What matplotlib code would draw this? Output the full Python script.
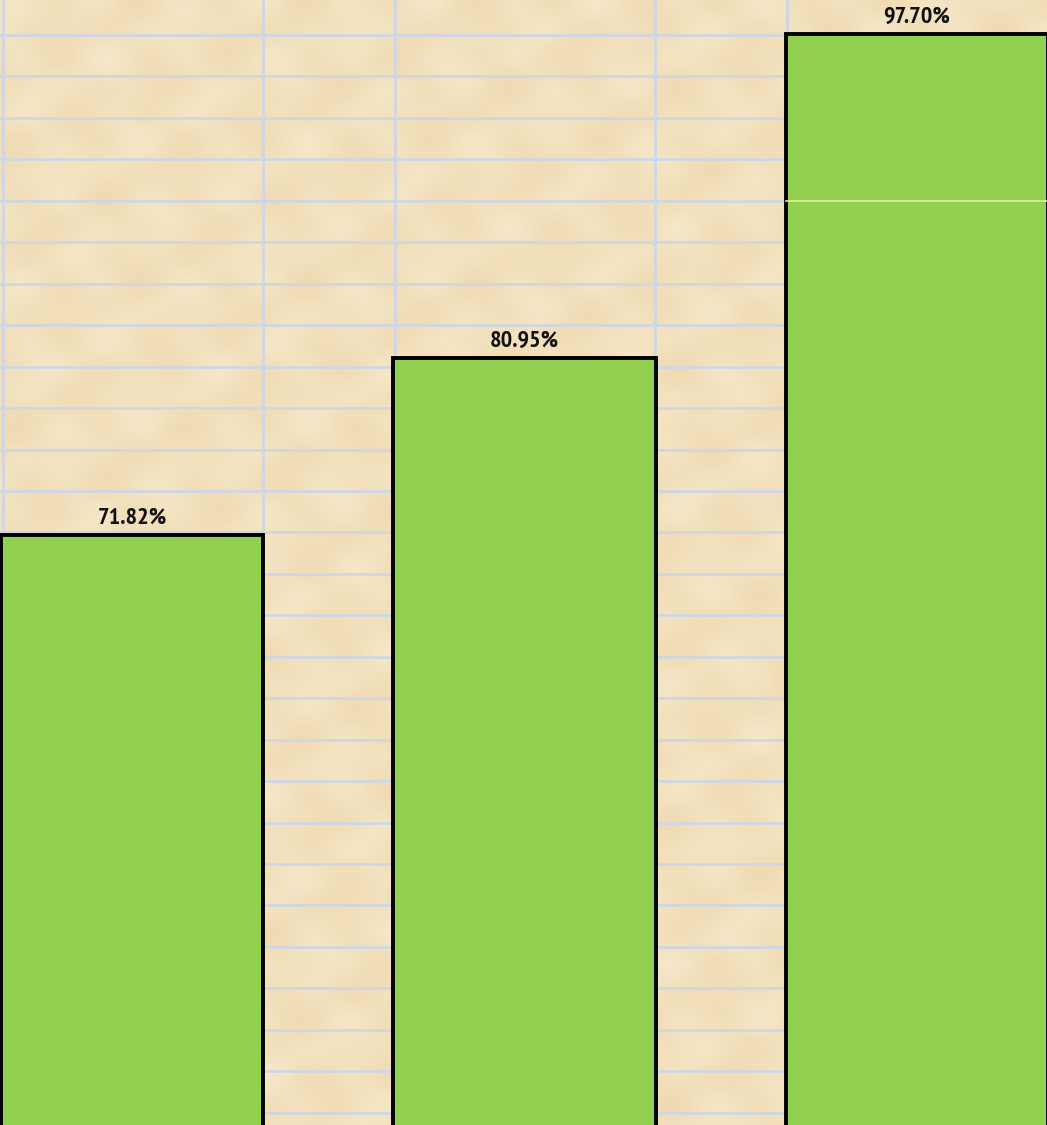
import matplotlib
matplotlib.use("Agg")
import matplotlib.pyplot as plt
import numpy as np
from matplotlib.colors import LinearSegmentedColormap

# Data
categories = ["A", "B", "C"]
values = [71.82, 80.95, 97.70]
labels = ["71.82%", "80.95%", "97.70%"]

W, H, DPI = 1047, 1125, 100
fig = plt.figure(figsize=(W / DPI, H / DPI), dpi=DPI)
fig.patch.set_facecolor("#F2E1BF")

# Sheet layer: parchment fill with cell borders, in pixel coordinates
sheet = fig.add_axes([0, 0, 1, 1], zorder=0)
sheet.set_xlim(0, W)
sheet.set_ylim(H, 0)
sheet.axis("off")

# soft parchment tone variation
yy, xx = np.mgrid[0:H:3, 0:W:3]
tone = (0.5 + 0.14 * np.sin(xx / 13.0) * np.cos(yy / 9.0)
        + 0.14 * np.sin((xx + 2 * yy) / 29.0)
        + 0.12 * np.cos((3 * xx - yy) / 41.0))
parch = LinearSegmentedColormap.from_list("parch", ["#EED8AF", "#F6E9CB"])
sheet.imshow(tone, cmap=parch, extent=[0, W, H, 0], aspect="auto",
             interpolation="bilinear", zorder=0, vmin=0, vmax=1)

grid_color = "#CFD6E4"
row_top, row_h = 35.0, 41.45
for k in range(-1, 28):
    sheet.axhline(row_top + k * row_h, color=grid_color, lw=2.0, zorder=1)
for xv in [3, 263, 395, 655, 787]:
    sheet.axvline(xv, color=grid_color, lw=2.0, zorder=1)

# Chart layer (transparent) on top of the sheet
ax = fig.add_axes([0, 0, 1, 1], zorder=2)
ax.patch.set_alpha(0)
x = np.arange(len(categories))
bars = ax.bar(x, values, width=0.668, color="#92D050",
              edgecolor="black", linewidth=2.8, bottom=0)
ax.set_xlim(-0.337, 2.332)
ax.set_ylim(41.3, 99.48)
ax.axis("off")

for xi, v, lab in zip(x, values, labels):
    ax.annotate(lab, (xi, v), xytext=(0, 12), textcoords="offset points",
                ha="center", va="center", fontsize=17.5, fontweight="bold",
                family=["PT Sans Narrow", "DejaVu Sans"], color="#111111")

# faint cell line across the tallest bar
ax.plot([2 - 0.334, 2.4], [89.1, 89.1], color="#E6EFA0", lw=1.2, zorder=5)

fig.savefig("out.png", dpi=DPI)
